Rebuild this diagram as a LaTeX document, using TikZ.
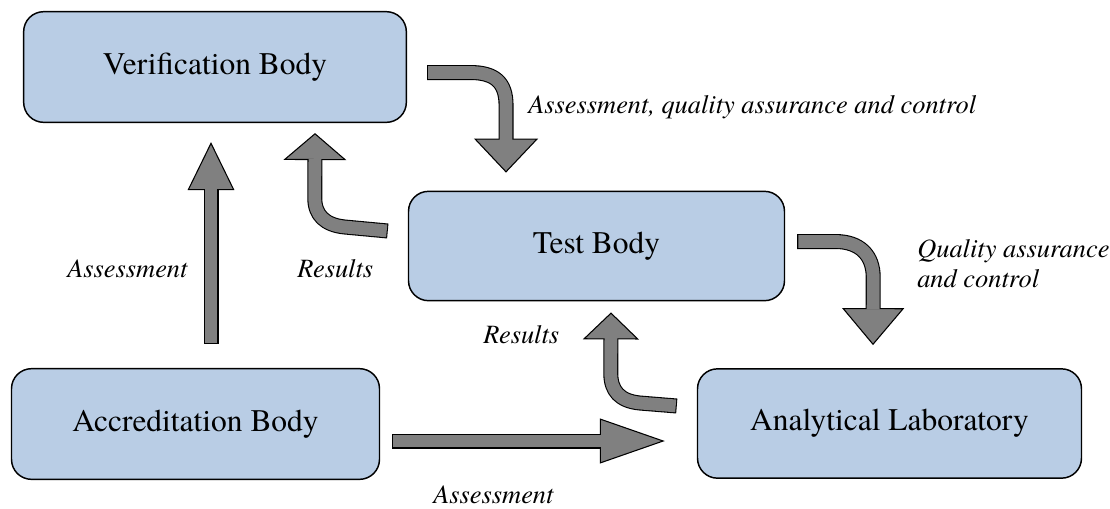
\documentclass[tikz,border=0pt]{standalone}
\usepackage{fontspec}
\setmainfont{texgyretermes}[Extension=.otf,UprightFont=*-regular,ItalicFont=*-italic,BoldFont=*-bold]
\usepackage{tikz}
\usetikzlibrary{arrows.meta,calc}
\definecolor{bodyblue}{HTML}{B9CDE5}
\definecolor{flowgray}{HTML}{808080}

\begin{document}
\begin{tikzpicture}[x=0.75pt,y=-0.75pt,line join=round,
            body node/.style={rectangle,rounded corners=15pt,draw,line width=1.1pt,fill=bodyblue,
            inner sep=0pt,font=\fontsize{23.6}{28}\selectfont},
            flow label/.style={inner sep=0pt,font=\fontsize{19.8}{22.5}\selectfont\itshape},
            flow arrow/.style 2 args={draw=black,line width=11.25pt,
            -{Triangle[length=#1,width=#2,line width=0.8pt,fill=flowgray]},
            postaction={draw=flowgray,line width=9.6pt,-,shorten <=0.8pt,shorten >=#1-1pt}}]

            \useasboundingbox (0,0) rectangle (1110,508);

            \node[body node,minimum width=287pt,minimum height=83pt] (VerificationBody) at (215,67) {Verification Body};
            \node[body node,minimum width=282pt,minimum height=82pt] (TestBody) at (596.5,246) {Test Body};
            \node[body node,minimum width=276pt,minimum height=83pt] (AccreditationBody) at (195.5,424) {Accreditation Body};
            \node[body node,minimum width=288pt,minimum height=82pt] (AnalyticalLab) at (889.5,423.5) {Analytical Laboratory};

            \node[flow label,anchor=base west] (AssessTop) at (528,113) {Assessment, quality assurance and control};
            \node[flow label,anchor=north west,align=left] (QualityLabel) at (917,239) {Quality assurance\\and control};
            \node[flow label,anchor=base west] (AssessUp) at (67,277) {Assessment};
            \node[flow label,anchor=base west] (ResultsLeft) at (297,277) {Results};
            \node[flow label,anchor=base west] (ResultsMid) at (483,343) {Results};
            \node[flow label,anchor=base west] (AssessRight) at (433,503) {Assessment};

            \draw[flow arrow={36pt}{35pt}] ($(AccreditationBody.north)+(15.5,-24)$) -- ($(VerificationBody.south)+(-4,19)$);
            \draw[flow arrow={48.75pt}{33.75pt}] ($(AccreditationBody.east)+(12,17)$) -- ($(AnalyticalLab.west)+(-32,17.5)$);

            \draw[flow arrow={25.5pt}{48pt}] ($(VerificationBody.east)+(20,5.5)$) -- ++(43,0)
                .. controls +(25,0) and +(0,-23) .. ++(36,33) -- ($(TestBody.north)+(-90.5,-18)$);
            \draw[flow arrow={20.25pt}{47.25pt}] ($(TestBody.west)+(-20,-15)$) -- ++(-43,-4)
                .. controls +(-20,-2) and +(0,17) .. ++(-30,-29) -- ($(VerificationBody.south)+(100,10)$);

            \draw[flow arrow={20.25pt}{42pt}] ($(AnalyticalLab.west)+(-20,-17.5)$) -- ++(-37,-3)
                .. controls +(-20,-2) and +(0,18) .. ++(-29,-30) -- ($(TestBody.south)+(14.5,11)$);
            \draw[flow arrow={27.75pt}{46.5pt}] ($(TestBody.east)+(12,-4.5)$) -- ++(38,0)
                .. controls +(25,0) and +(0,-22) .. ++(38,36) -- ($(AnalyticalLab.north)+(-16.5,-23)$);
\end{tikzpicture}
\end{document}
